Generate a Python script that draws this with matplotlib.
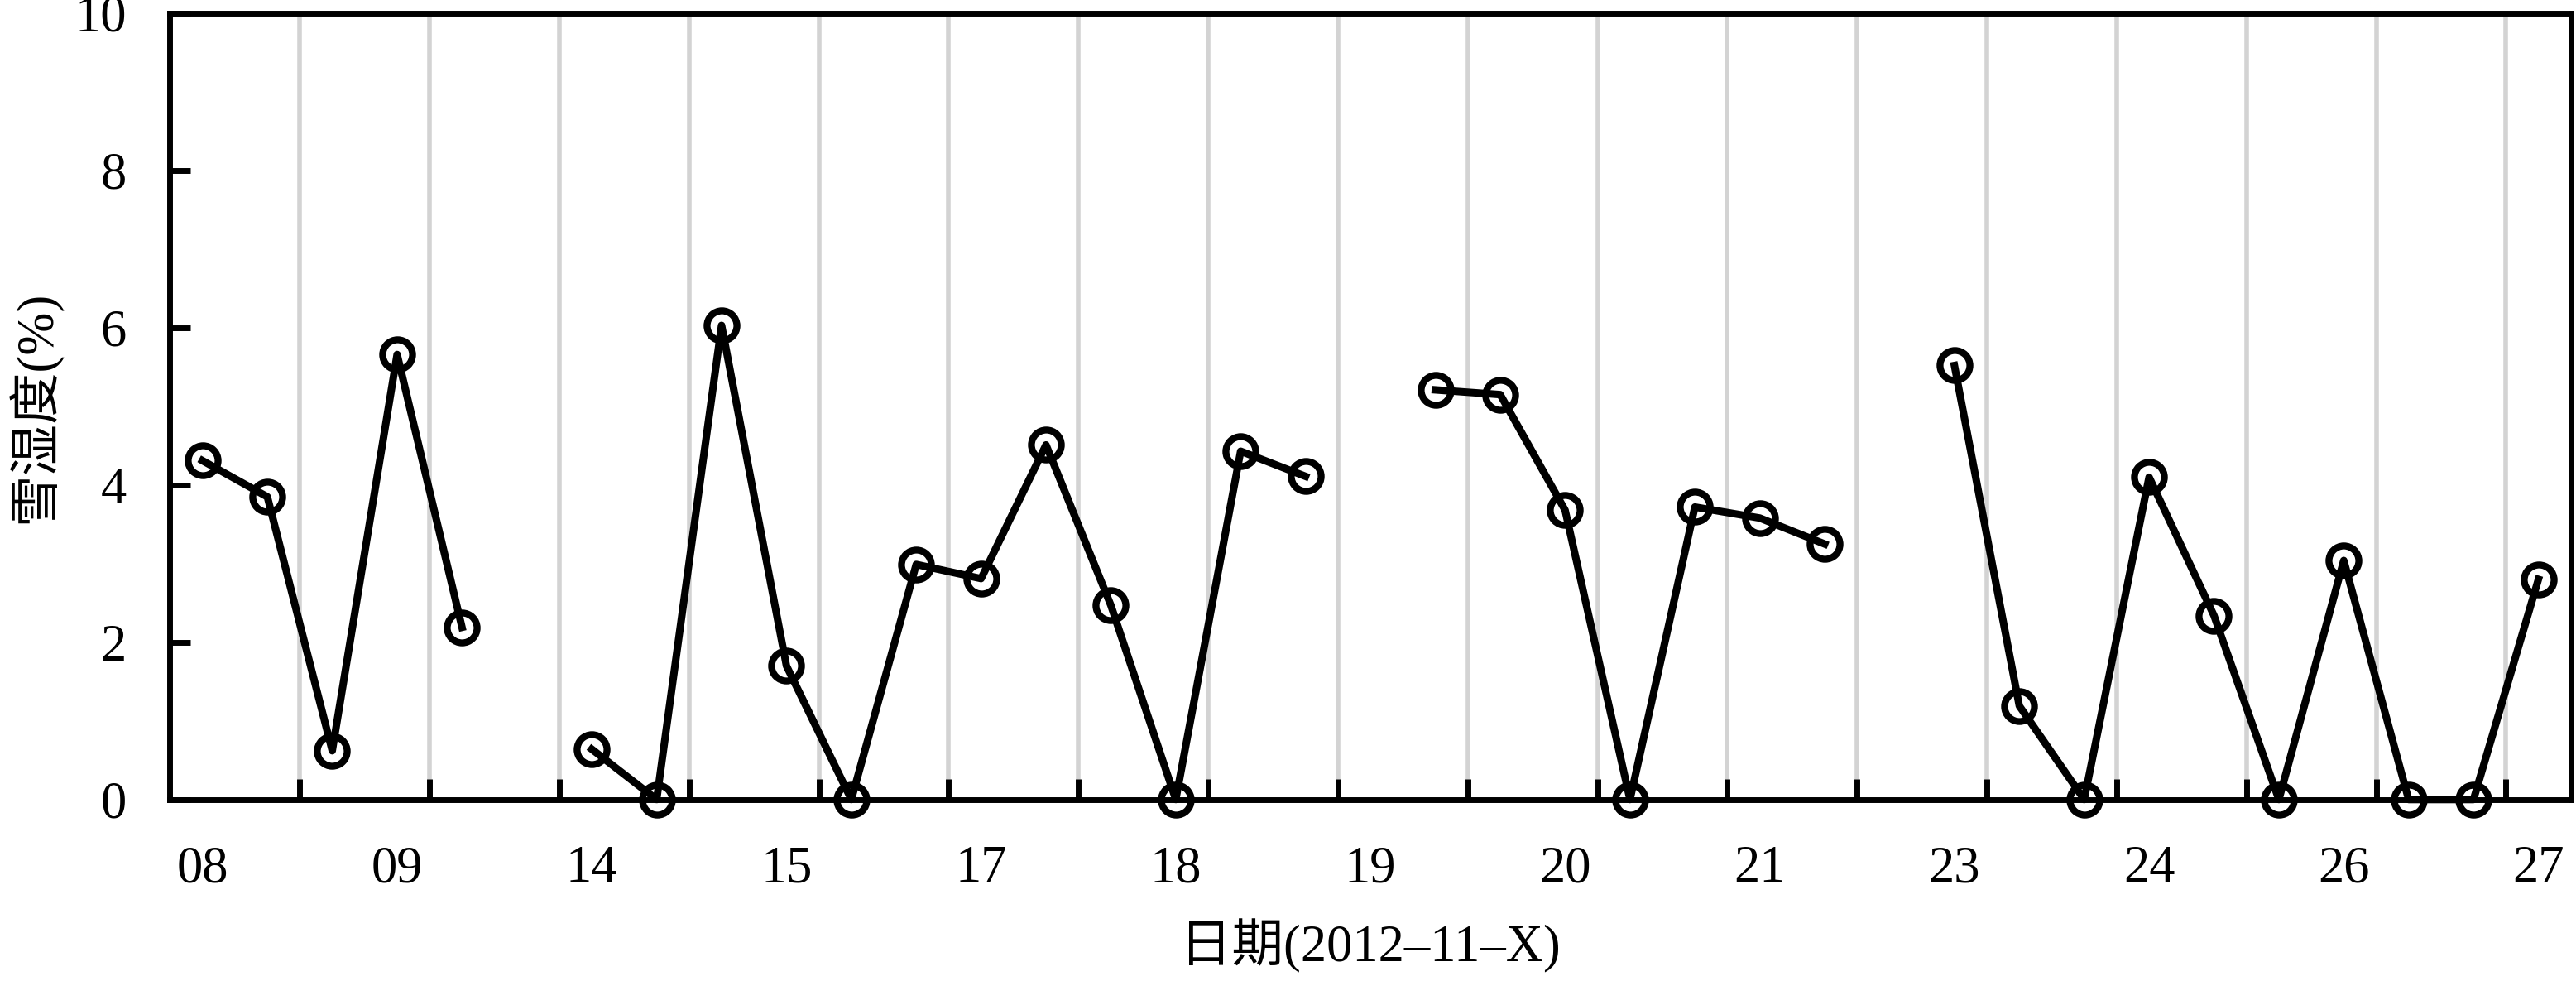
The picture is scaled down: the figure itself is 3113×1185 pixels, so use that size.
import numpy as np
import matplotlib
matplotlib.use("Agg")
import matplotlib.pyplot as plt

# snow wetness per sample, NaN = gap between observation groups
day_labels = ['08', '09', '14', '15', '17', '18', '19', '20', '21', '23', '24', '26', '27']
wetness = [4.31, 3.85, 0.62, 5.66, 2.19, np.nan,
           0.64, 0.0, 6.03, 1.70, 0.0, 2.99, 2.81, 4.51, 2.47, 0.0, 4.43, 4.11, np.nan,
           5.21, 5.15, 3.68, 0.0, 3.72, 3.58, 3.25, np.nan,
           5.52, 1.19, 0.0, 4.10, 2.34, 0.0, 3.04, 0.0, 0.0, 2.80]

plt.rcParams['font.family'] = ['Liberation Serif', 'Noto Sans CJK SC']
plt.rcParams['font.size'] = 45

fig = plt.figure(figsize=(31.13, 11.85), dpi=100)
ax = fig.add_axes([0.066, 0.185, 0.932, 0.8015])

x = np.arange(len(wetness))
ax.plot(x, wetness, color='black', lw=6.5, marker='o', ms=26, mfc='none',
        mec='black', mew=6, clip_on=False, zorder=3)

ax.set_xlim(-0.5, len(wetness) - 0.5)
ax.set_ylim(0, 10)

# grid/tick marks every two samples, labels every three
grid_pos = np.arange(1.5, len(wetness) - 1, 2)
ax.set_xticks(grid_pos)
ax.set_xticklabels([])
ax.set_xticks(np.arange(0, len(wetness), 3), minor=True)
ax.set_xticklabels(day_labels, minor=True)
ax.tick_params(axis='x', which='major', direction='in', length=18, width=5)
ax.tick_params(axis='x', which='minor', length=0, pad=40)
for g in grid_pos:
    ax.axvline(g, color='#d3d3d3', lw=4, zorder=1)

ax.set_yticks(np.arange(0, 11, 2))
ax.tick_params(axis='y', direction='in', length=18, width=5, pad=38)
for t in ax.get_yticklabels():
    t.set_va('center_baseline')

for s in ax.spines.values():
    s.set_linewidth(5)

ax.set_xlabel('日期(2012–11–X)', labelpad=22)
ax.set_ylabel('雪湿度(%)')
ax.yaxis.set_label_coords(-0.045, 0.5)

fig.savefig('out.png', dpi=100)
